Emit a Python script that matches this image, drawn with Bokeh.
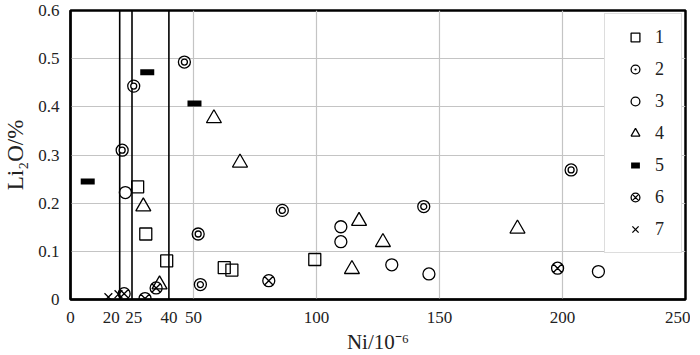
from bokeh.plotting import figure
from bokeh.models import Range1d, FixedTicker, Span, Legend, LegendItem
from bokeh.embed import file_html
from bokeh.resources import INLINE

# ---- data ----
x_ticks = [0, 20, 25, 40, 50, 100, 150, 200, 250]
x_tick_labels = {0: "0", 20: "20\u2003", 25: "\u200925", 40: "40", 50: "50",
                 100: "100", 150: "150", 200: "200", 250: "250"}
y_ticks = [0, 0.1, 0.2, 0.3, 0.4, 0.5, 0.6]
ref_lines = [20, 25, 40]
x_grid = [50, 100, 150, 200]
y_grid = [0.1, 0.2, 0.3, 0.4, 0.5]

s1_x = [27.3, 30.6, 39.1, 62.5, 65.6, 99.3]
s1_y = [0.234, 0.136, 0.080, 0.066, 0.061, 0.083]

s2_x = [46.3, 25.7, 21.0, 51.9, 52.8, 86.1, 143.6, 203.5]
s2_y = [0.493, 0.443, 0.310, 0.136, 0.031, 0.185, 0.193, 0.269]

s3_x = [22.3, 109.9, 109.9, 130.6, 145.7, 214.6]
s3_y = [0.222, 0.151, 0.120, 0.072, 0.053, 0.058]

s4_x = [58.3, 68.9, 29.6, 36.2, 117.3, 127.0, 114.4, 181.7]
s4_y = [0.376, 0.284, 0.193, 0.031, 0.163, 0.119, 0.063, 0.147]

s5_x = [7.0, 31.2, 50.4]
s5_y = [0.245, 0.472, 0.407]

s6_x = [21.8, 30.3, 34.8, 80.6, 198.0]
s6_y = [0.012, 0.002, 0.024, 0.039, 0.065]

s7_x = [15.4, 19.5]
s7_y = [0.005, 0.011]

labels = ["1", "2", "3", "4", "5", "6", "7"]

FONT = "Liberation Serif"

p = figure(width=690, height=356, output_backend="svg", toolbar_location=None,
           x_range=Range1d(0, 250), y_range=Range1d(0, 0.6),
           min_border_left=67, min_border_right=5, min_border_top=10, min_border_bottom=40)

p.outline_line_color = "black"
p.outline_line_width = 2.5
p.background_fill_color = "white"

for ax in (p.xaxis[0], p.yaxis[0]):
    ax.major_tick_line_color = None
    ax.minor_tick_line_color = None
    ax.major_tick_in = 0
    ax.major_tick_out = 0
    ax.axis_line_color = "black"
    ax.axis_line_width = 2
    ax.major_label_text_font = FONT
    ax.major_label_text_font_size = "17px"
    ax.major_label_text_color = "#222222"
    ax.axis_label_text_font = FONT
    ax.axis_label_text_font_style = "normal"
    ax.axis_label_text_color = "#222222"

p.xaxis.ticker = FixedTicker(ticks=x_ticks)
p.yaxis.ticker = FixedTicker(ticks=y_ticks)
p.xaxis.major_label_overrides = x_tick_labels
p.yaxis.major_label_overrides = {0: "0"}
p.xaxis.major_label_standoff = 8
p.yaxis.major_label_standoff = 11
p.xaxis.axis_label = "Ni/10\u207b\u2076"
p.yaxis.axis_label = "Li\u2082O/%"
p.xaxis.axis_label_text_font_size = "21px"
p.yaxis.axis_label_text_font_size = "23px"
p.xaxis.axis_label_standoff = 0
p.yaxis.axis_label_standoff = 7

p.xgrid.ticker = FixedTicker(ticks=x_grid)
p.ygrid.ticker = FixedTicker(ticks=y_grid)
p.grid.grid_line_color = "#c4c4c4"
p.grid.grid_line_width = 1.2

for loc in ref_lines:
    p.add_layout(Span(location=loc, dimension="height", line_color="black",
                      line_width=1.6, level="underlay"))

LW = 1.3
r1 = p.scatter(s1_x, s1_y, marker="square", size=12, fill_color=None,
               line_color="black", line_width=LW)
r2 = p.scatter(s2_x, s2_y, marker="circle_dot", size=12, fill_color=None,
               line_color="black", line_width=LW)
p.scatter(s2_x, s2_y, marker="circle", size=6, fill_color="white",
          line_color="black", line_width=LW)
r3 = p.scatter(s3_x, s3_y, marker="circle", size=12, fill_color=None,
               line_color="black", line_width=LW)
r4 = p.scatter(s4_x, s4_y, marker="triangle", size=15, fill_color=None,
               line_color="black", line_width=LW)
r5 = p.scatter(s5_x, s5_y, marker="dash", size=14, line_color="black",
               line_width=6)
r6 = p.scatter(s6_x, s6_y, marker="circle_x", size=12, fill_color=None,
               line_color="black", line_width=LW)
r7 = p.scatter(s7_x, s7_y, marker="x", size=11, line_color="black", line_width=LW)

items = [LegendItem(label=lab, renderers=[r])
         for lab, r in zip(labels, [r1, r2, r3, r4, r5, r6, r7])]
legend = Legend(items=items, location="top_right", margin=3, padding=12,
                spacing=10, glyph_width=36, glyph_height=22, label_height=22,
                label_width=14, label_standoff=2,
                label_text_font=FONT, label_text_font_size="18px",
                label_text_color="#222222",
                border_line_color="#bbbbbb", border_line_width=1.2,
                background_fill_color="white", background_fill_alpha=1.0)
p.add_layout(legend)

open("out.html", "w").write(file_html(p, INLINE))
